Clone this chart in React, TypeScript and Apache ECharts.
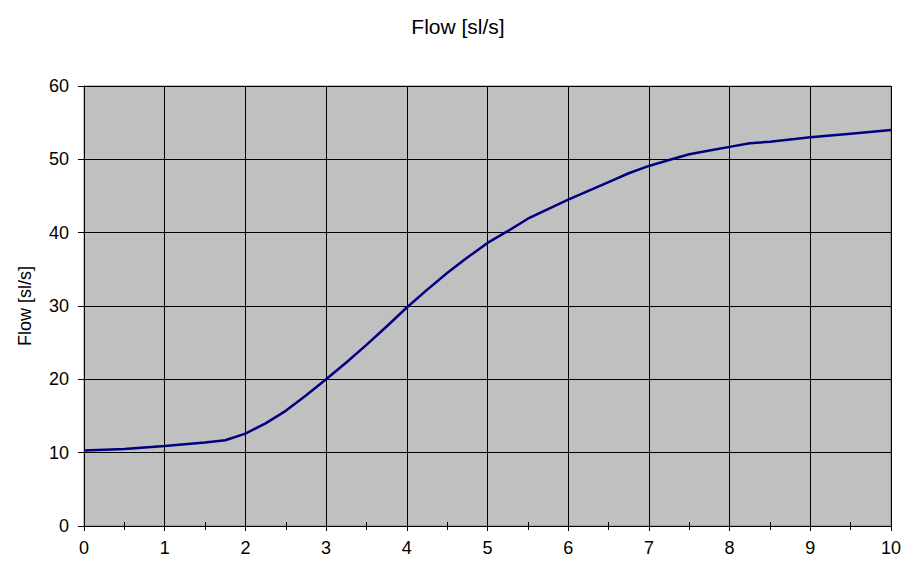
import React, { useEffect, useRef } from "react";
import * as echarts from "echarts";

const xValues = [0, 0.5, 1, 1.5, 1.75, 2, 2.25, 2.5, 2.75, 3, 3.25, 3.5, 3.75, 4, 4.25, 4.5, 4.75, 5, 5.25, 5.5, 5.75, 6, 6.25, 6.5, 6.75, 7, 7.25, 7.5, 7.75, 8, 8.25, 8.5, 9, 9.5, 10];
const flowValues = [10.3, 10.5, 10.9, 11.4, 11.7, 12.6, 14.0, 15.7, 17.8, 20.0, 22.3, 24.7, 27.2, 29.8, 32.2, 34.5, 36.6, 38.6, 40.2, 41.9, 43.2, 44.5, 45.7, 46.9, 48.1, 49.1, 49.9, 50.7, 51.2, 51.7, 52.2, 52.4, 53.0, 53.5, 54.0];
const titleText = "Flow [sl/s]";
const yAxisName = "Flow [sl/s]";

export default function App() {
  const ref = useRef<HTMLDivElement>(null);
  useEffect(() => {
    const chart = echarts.init(ref.current!, undefined, { renderer: "svg" });
    const font = "Arial, 'Liberation Sans', sans-serif";
    chart.setOption({
      animation: false,
      backgroundColor: "#ffffff",
      title: {
        text: titleText,
        left: "center",
        top: 3,
        textStyle: { fontFamily: font, fontSize: 21, fontWeight: "normal", color: "#000" },
      },
      grid: {
        left: 76,
        right: 17,
        top: 78,
        bottom: 36,
        show: true,
        backgroundColor: "#c0c0c0",
        borderColor: "#808080",
        borderWidth: 1,
      },
      xAxis: [
        {
          type: "value",
          min: 0,
          max: 10,
          interval: 1,
          position: "bottom",
          axisLine: { show: true, onZero: false, lineStyle: { color: "#000", width: 1 } },
          axisTick: { show: true, inside: false, length: 5, lineStyle: { color: "#000" } },
          minorTick: { show: true, splitNumber: 2, length: 4, lineStyle: { color: "#000" } },
          splitLine: { show: true, lineStyle: { color: "#000", width: 1 } },
          axisLabel: { fontFamily: font, fontSize: 18, color: "#000", margin: 13 },
        },
        {
          type: "value",
          min: 0,
          max: 10,
          interval: 1,
          position: "bottom",
          offset: 0,
          axisLine: { show: false },
          axisTick: { show: true, inside: true, length: 5, lineStyle: { color: "#000" } },
          minorTick: { show: true, splitNumber: 2, length: 4, lineStyle: { color: "#000" } },
          splitLine: { show: false },
          axisLabel: { show: false },
        },
      ],
      yAxis: {
        type: "value",
        min: 0,
        max: 60,
        interval: 10,
        name: yAxisName,
        nameLocation: "middle",
        nameGap: 50,
        nameRotate: 90,
        nameTextStyle: { fontFamily: font, fontSize: 18, color: "#000" },
        axisLine: { show: true, lineStyle: { color: "#000", width: 1 } },
        axisTick: { show: true, length: 6, lineStyle: { color: "#000" } },
        splitLine: { show: true, lineStyle: { color: "#000", width: 1 } },
        axisLabel: { fontFamily: font, fontSize: 18, color: "#000", margin: 15 },
      },
      series: [
        {
          type: "line",
          xAxisIndex: 0,
          data: xValues.map((x, i) => [x, flowValues[i]]),
          showSymbol: false,
          lineStyle: { color: "#000080", width: 2.5 },
          smooth: false,
        },
      ],
    });
    return () => chart.dispose();
  }, []);
  return <div ref={ref} style={{ width: 900, height: 554 }} />;
}
